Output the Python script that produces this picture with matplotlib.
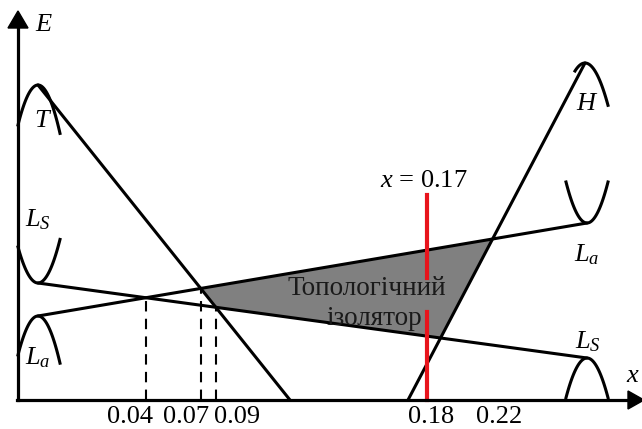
import numpy as np
import matplotlib.pyplot as plt
from matplotlib.patches import Polygon

plt.rcParams['font.family'] = ['Liberation Serif', 'DejaVu Serif']
plt.rcParams['mathtext.fontset'] = 'custom'
plt.rcParams['mathtext.rm'] = 'Liberation Serif'
plt.rcParams['mathtext.it'] = 'Liberation Serif:italic'

# schematic band lines (u, v), origin at axes crossing
T_line = [(20, 315), (272, 0)]
H_line = [(390, 0), (567, 337)]
Ls_line = [(20, 117), (569, 42)]
La_line = [(20, 84), (569, 177)]

# band-edge parabolas: vertex u, vertex v, curvature, left / right extent
caps_u0 = [20, 20, 20, 569, 569, 567]
caps_v0 = [315, 117, 84, 42, 177, 337]
caps_k = [-0.1, 0.09, -0.0975, -0.09, 0.093, -0.08]
caps_left = [20, 20, 20, 21, 21, 10]
caps_right = [22, 22, 22, 21, 21, 23]

x_red = 409
red_top = 205
red_gap = (88, 122)

tick_labels = ['0.04', '0.07', '0.09', '0.18', '0.22']
tick_pos = [112, 168, 219, 413, 481]


def intersect(a, b):
    (x1, y1), (x2, y2) = a
    (x3, y3), (x4, y4) = b
    d = (x1 - x2) * (y3 - y4) - (y1 - y2) * (x3 - x4)
    t = ((x1 - x3) * (y3 - y4) - (y1 - y3) * (x3 - x4)) / d
    return (x1 + t * (x2 - x1), y1 + t * (y2 - y1))


fig = plt.figure(figsize=(6.42, 4.29), dpi=100)
ax = fig.add_axes([0, 0, 1, 1])
ax.set_xlim(-18, 624)
ax.set_ylim(-29, 400)
ax.axis('off')

# isolator region
p1 = intersect(T_line, La_line)
p2 = intersect(H_line, La_line)
p3 = intersect(H_line, Ls_line)
p4 = intersect(T_line, Ls_line)
ax.add_patch(Polygon([p1, p2, p3, p4], closed=True, facecolor='#808080',
                     edgecolor='none', zorder=1))

lw = 2.2
for ln in [T_line, H_line, Ls_line, La_line]:
    xs, ys = zip(*ln)
    ax.plot(xs, ys, color='black', lw=lw, zorder=3, solid_capstyle='round')

for u0, v0, k, hl, hr in zip(caps_u0, caps_v0, caps_k, caps_left, caps_right):
    uu = np.linspace(u0 - hl, u0 + hr, 60)
    ax.plot(uu, v0 + k * (uu - u0) ** 2, color='black', lw=lw, zorder=3)

# dashed drop lines
for p in [intersect(Ls_line, La_line), p1, p4]:
    ax.plot([p[0], p[0]], [0, p[1]], color='black', lw=1.5,
            dashes=(5, 3.5), zorder=2)

# red line x = 0.17
ax.plot([x_red, x_red], [red_gap[1], red_top], color='#e8141c', lw=3, zorder=4)
ax.plot([x_red, x_red], [0, red_gap[0]], color='#e8141c', lw=3, zorder=4)

# axes with arrows
ax.plot([0, 0], [0, 375], color='black', lw=2.3, zorder=5)
ax.plot([-1, 610], [0, 0], color='black', lw=2.3, zorder=5)
ax.fill([-10, 10, 0], [372, 372, 389], color='black', zorder=5)
ax.fill([610, 610, 626], [-9, 9, 0], color='black', zorder=5)

fs = 19
for lab, pos in zip(tick_labels, tick_pos):
    ax.text(pos, -23, lab, fontsize=fs, ha='center', va='baseline')

ax.text(25, 375, 'E', fontsize=fs, style='italic', ha='center', va='center')
ax.text(24, 279, 'T', fontsize=fs, style='italic', ha='center', va='center')
ax.text(568, 296, 'H', fontsize=fs, style='italic', ha='center', va='center')
ax.text(20, 180, r'$L_S$', fontsize=fs, ha='center', va='center')
ax.text(20, 42, r'$L_a$', fontsize=fs, ha='center', va='center')
ax.text(569, 145, r'$L_a$', fontsize=fs, ha='center', va='center')
ax.text(570, 58, r'$L_S$', fontsize=fs, ha='center', va='center')
ax.text(622, 24, r'$x$', fontsize=fs, ha='right', va='center')
ax.text(406, 213, r'$x$ = 0.17', fontsize=fs, ha='center', va='baseline')

ax.text(349, 105, 'Топологічний', fontsize=19.5, color='#1a1a1a',
        ha='center', va='baseline', zorder=6)
ax.text(356, 75, 'ізолятор', fontsize=19.5, color='#1a1a1a',
        ha='center', va='baseline', zorder=6)

fig.savefig('out.png', dpi=100)
